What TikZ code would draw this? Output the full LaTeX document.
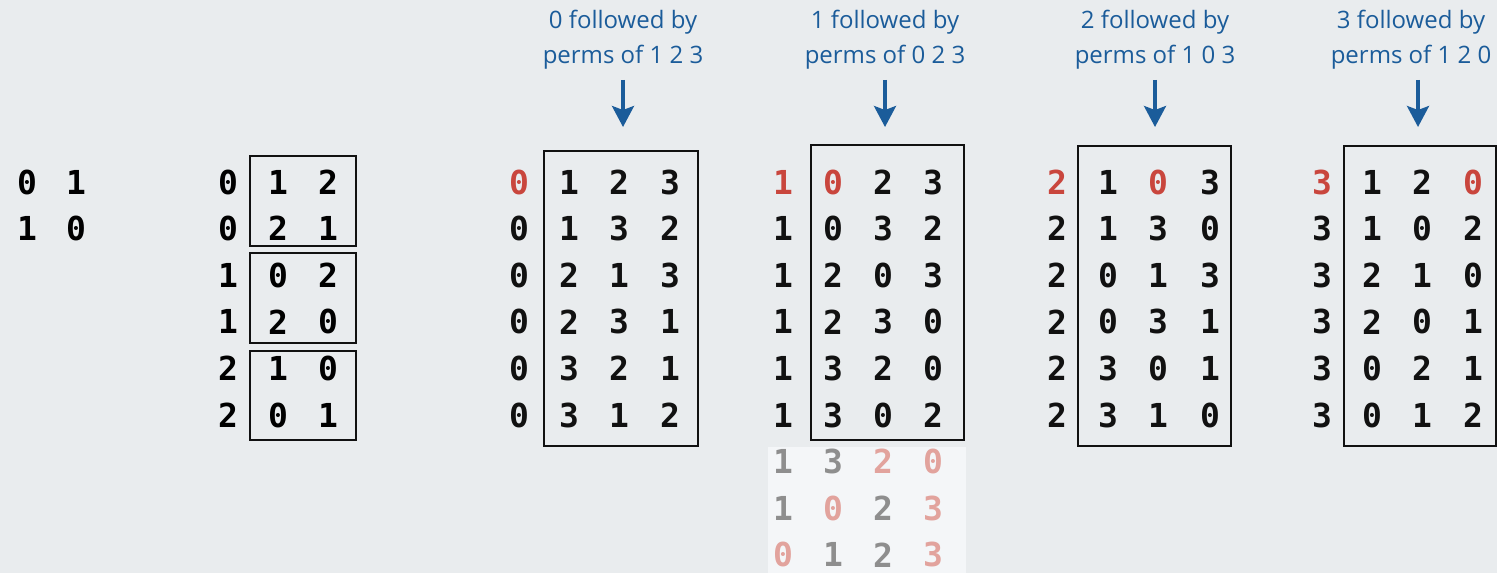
\documentclass[tikz,border=0pt]{standalone}
\usepackage{fontspec}
\newfontfamily\digitfont{DejaVu Sans Mono}
\newfontfamily\notefont{Open Sans}
\usetikzlibrary{arrows.meta,fit}
\definecolor{bg}{HTML}{E9ECEE}
\definecolor{panel}{HTML}{F4F6F8}
\definecolor{ink}{HTML}{111111}
\definecolor{hl}{HTML}{C9463D}
\definecolor{fadeink}{HTML}{8E8E8E}
\definecolor{fadehl}{HTML}{E2A39D}
\definecolor{note}{HTML}{1B5C9A}
\tikzset{
  digit/.style={inner sep=0pt, font=\digitfont\bfseries\fontsize{16.5}{16.5}\selectfont},
  frame/.style={draw=ink, line width=1pt, inner sep=0pt},
  caption/.style={text=note, align=center, inner sep=0pt,
    font=\notefont\fontsize{12}{17.5}\selectfont},
  pointer/.style={draw=note, line width=1.7pt, shorten <=5pt,
    -{Stealth[length=10.5pt,width=11pt,inset=2pt]}},
}
\begin{document}
\begin{tikzpicture}[x=0.5pt,y=-0.5pt]
\fill[bg] (0,0) rectangle (1497,573);
\useasboundingbox (0,0) rectangle (1497,573);

% permutations of 0 1
\node[digit] (a1a) at (27,182) {0};
\node[digit] (a1b) at (76,182) {1};
\node[digit] (a2a) at (27,228.6) {1};
\node[digit] (a2b) at (76,228.6) {0};

% permutations of 0 1 2, grouped by first element
\foreach \y/\a/\b/\c [count=\i] in {182/0/1/2, 228.6/0/2/1, 275.2/1/0/2,
    321.8/1/2/0, 368.4/2/1/0, 415/2/0/1} {
  \node[digit] (b\i a) at (228,\y) {\a};
  \node[digit] (b\i b) at (278,\y) {\b};
  \node[digit] (b\i c) at (328,\y) {\c};
}
\node[frame, fit={(250,156) (356,246)}] (bbox1) {};
\node[frame, fit={(250,253) (356,343)}] (bbox2) {};
\node[frame, fit={(250,351) (356,440)}] (bbox3) {};

% permutations of 0 1 2 3 starting with 0
\foreach \y/\ca/\a/\cb/\b/\cc/\c/\cd/\d [count=\i] in {
    182/hl/0/ink/1/ink/2/ink/3, 228.6/ink/0/ink/1/ink/3/ink/2,
    275.2/ink/0/ink/2/ink/1/ink/3, 321.8/ink/0/ink/2/ink/3/ink/1,
    368.4/ink/0/ink/3/ink/2/ink/1, 415/ink/0/ink/3/ink/1/ink/2} {
  \node[digit, text=\ca] (p\i a) at (519,\y) {\a};
  \node[digit, text=\cb] (p\i b) at (569,\y) {\b};
  \node[digit, text=\cc] (p\i c) at (619,\y) {\c};
  \node[digit, text=\cd] (p\i d) at (670,\y) {\d};
}
\node[frame, fit={(544,151) (698,446)}] (pbox) {};
\node[caption] (plbl) at (623,40) {0 followed by\\perms of 1 2 3};
\coordinate (ptip) at (623,127);

% permutations starting with 1, then the next ones in lighter colours
\fill[panel] (768,447) rectangle (966,573);
\foreach \y/\ca/\a/\cb/\b/\cc/\c/\cd/\d [count=\i] in {
    182/hl/1/hl/0/ink/2/ink/3, 228.6/ink/1/ink/0/ink/3/ink/2,
    275.2/ink/1/ink/2/ink/0/ink/3, 321.8/ink/1/ink/2/ink/3/ink/0,
    368.4/ink/1/ink/3/ink/2/ink/0, 415/ink/1/ink/3/ink/0/ink/2,
    461.6/fadeink/1/fadeink/3/fadehl/2/fadehl/0,
    508.2/fadeink/1/fadehl/0/fadeink/2/fadehl/3,
    554.8/fadehl/0/fadeink/1/fadeink/2/fadehl/3} {
  \node[digit, text=\ca] (q\i a) at (783,\y) {\a};
  \node[digit, text=\cb] (q\i b) at (833,\y) {\b};
  \node[digit, text=\cc] (q\i c) at (883,\y) {\c};
  \node[digit, text=\cd] (q\i d) at (933,\y) {\d};
}
\node[frame, fit={(811,145) (964,440)}] (qbox) {};
\node[caption] (qlbl) at (885,40) {1 followed by\\perms of 0 2 3};
\coordinate (qtip) at (885,127);

% permutations starting with 2
\foreach \y/\ca/\a/\cb/\b/\cc/\c/\cd/\d [count=\i] in {
    182/hl/2/ink/1/hl/0/ink/3, 228.6/ink/2/ink/1/ink/3/ink/0,
    275.2/ink/2/ink/0/ink/1/ink/3, 321.8/ink/2/ink/0/ink/3/ink/1,
    368.4/ink/2/ink/3/ink/0/ink/1, 415/ink/2/ink/3/ink/1/ink/0} {
  \node[digit, text=\ca] (r\i a) at (1057,\y) {\a};
  \node[digit, text=\cb] (r\i b) at (1108,\y) {\b};
  \node[digit, text=\cc] (r\i c) at (1158,\y) {\c};
  \node[digit, text=\cd] (r\i d) at (1210,\y) {\d};
}
\node[frame, fit={(1078,146) (1231,446)}] (rbox) {};
\node[caption] (rlbl) at (1155,40) {2 followed by\\perms of 1 0 3};
\coordinate (rtip) at (1155,127);

% permutations starting with 3
\foreach \y/\ca/\a/\cb/\b/\cc/\c/\cd/\d [count=\i] in {
    182/hl/3/ink/1/ink/2/hl/0, 228.6/ink/3/ink/1/ink/0/ink/2,
    275.2/ink/3/ink/2/ink/1/ink/0, 321.8/ink/3/ink/2/ink/0/ink/1,
    368.4/ink/3/ink/0/ink/2/ink/1, 415/ink/3/ink/0/ink/1/ink/2} {
  \node[digit, text=\ca] (s\i a) at (1322,\y) {\a};
  \node[digit, text=\cb] (s\i b) at (1372,\y) {\b};
  \node[digit, text=\cc] (s\i c) at (1422,\y) {\c};
  \node[digit, text=\cd] (s\i d) at (1473,\y) {\d};
}
\node[frame, fit={(1344,146) (1496,446)}] (sbox) {};
\node[caption] (slbl) at (1411,40) {3 followed by\\perms of 1 2 0};
\coordinate (stip) at (1418,127);

% arrows from the captions down to their blocks
\foreach \g in {p,q,r,s}
  \draw[pointer] (\g lbl.south -| \g tip) -- (\g tip);
\end{tikzpicture}
\end{document}
